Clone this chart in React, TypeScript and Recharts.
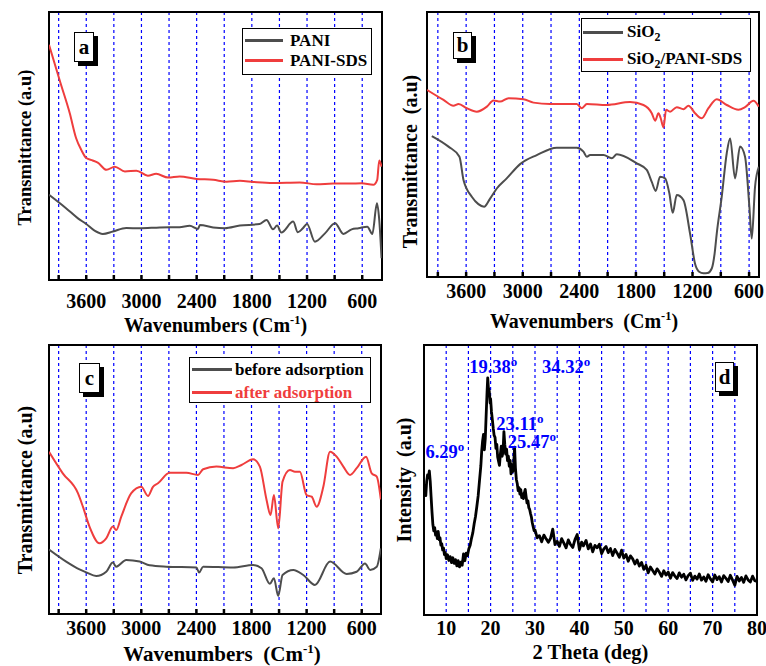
import React from 'react';
import { LineChart, Line, XAxis, YAxis, CartesianGrid, ReferenceArea, ReferenceDot, Legend } from 'recharts';

const SERIF = "'Liberation Serif', 'Times New Roman', serif";
const GRAY = '#4d4d4d';
const RED = '#ef3d3d';
const BLUE = '#0000ff';

// ---------- Panel a ----------
const aPaniWn = [4005, 3820, 3690, 3600, 3510, 3420, 3310, 3165, 3020, 2800, 2585, 2475, 2385, 2365, 2220, 2095, 1930, 1715, 1640, 1570, 1525, 1480, 1350, 1300, 1245, 1200, 1115, 1005, 895, 805, 715, 640, 545, 490, 440, 415, 390];
const aPaniT = [31.8, 26.8, 23.0, 20.9, 18.4, 17.2, 18.1, 19.4, 19.3, 19.6, 19.7, 20.2, 19.0, 20.5, 19.6, 19.3, 20.3, 20.9, 22.4, 18.9, 20.3, 17.7, 21.8, 17.8, 19.3, 20.9, 14.3, 17.4, 21.2, 17.2, 18.9, 19.3, 19.9, 17.2, 28.6, 22.4, 8.1];
const aSdsWn = [4005, 3880, 3780, 3710, 3655, 3600, 3530, 3475, 3380, 3290, 3180, 3055, 2930, 2840, 2710, 2585, 2400, 2220, 2075, 1930, 1785, 1570, 1280, 1095, 915, 735, 607, 480, 437, 415, 390];
const aSdsT = [87.8, 73.5, 62.3, 52.9, 48.6, 45.5, 44.6, 43.8, 41.1, 42.3, 40.5, 40.8, 38.9, 39.6, 38.2, 38.6, 37.7, 37.4, 36.7, 37.0, 36.6, 36.2, 36.4, 35.7, 36.0, 36.0, 36.1, 35.5, 37.4, 44.6, 42.3];

// ---------- Panel b ----------
const bSiWn = [3964, 3787, 3671, 3628, 3540, 3470, 3410, 3346, 3275, 3170, 3028, 2851, 2639, 2427, 2356, 2320, 2286, 2144, 2056, 2003, 1791, 1685, 1632, 1590, 1544, 1491, 1445, 1410, 1367, 1296, 1226, 1173, 1130, 1084, 1040, 996, 965, 943, 890, 837, 801, 749, 696, 643, 597, 572, 537, 497];
const bSiT = [53.2, 49.2, 45.4, 36.6, 30.3, 27.5, 26.5, 29.6, 33.4, 37.2, 42.6, 46.0, 48.8, 48.8, 47.3, 45.4, 46.0, 46.0, 44.8, 46.3, 42.9, 40.4, 35.9, 32.5, 37.8, 37.2, 31.5, 24.2, 30.9, 29.0, 16.4, 5.0, 2.0, 1.4, 1.5, 3.2, 9.0, 16.4, 30.3, 46.7, 52.3, 37.2, 49.2, 45.4, 26.5, 14.5, 34.0, 41.6];
const bSdsWn = [4015, 3840, 3735, 3680, 3593, 3487, 3380, 3310, 3240, 3150, 2992, 2886, 2710, 2427, 2374, 2320, 2110, 1862, 1720, 1632, 1596, 1561, 1537, 1508, 1480, 1438, 1367, 1296, 1243, 1173, 1102, 1031, 943, 837, 713, 643, 554, 497];
const bSdsT = [70.6, 66.8, 64.6, 65.3, 63.7, 62.4, 64.3, 66.6, 66.2, 67.5, 67.1, 65.8, 65.3, 65.3, 63.7, 65.3, 64.9, 66.0, 64.9, 61.8, 59.0, 61.8, 59.9, 56.5, 63.1, 62.4, 64.1, 63.3, 64.6, 61.8, 59.9, 63.7, 67.1, 64.9, 63.1, 64.1, 66.5, 64.3];

// ---------- Panel c ----------
const cBefWn = [4005, 3818, 3673, 3600, 3491, 3382, 3310, 3273, 3164, 3018, 2909, 2727, 2400, 2371, 2327, 2000, 1782, 1691, 1600, 1556, 1509, 1462, 1345, 1236, 1109, 945, 764, 655, 564, 509, 436, 392];
const cBefT = [24.0, 19.5, 16.6, 15.5, 14.1, 15.7, 19.1, 17.6, 20.1, 19.5, 18.1, 17.6, 17.3, 15.4, 17.6, 17.3, 18.2, 17.0, 11.2, 13.3, 6.7, 14.5, 16.4, 14.5, 10.8, 19.5, 14.9, 15.7, 18.8, 16.4, 17.6, 24.4];
const cAftWn = [4005, 3855, 3690, 3636, 3564, 3455, 3382, 3310, 3273, 3218, 3109, 3000, 2927, 2873, 2818, 2691, 2509, 2382, 2327, 2182, 2000, 1909, 1782, 1709, 1636, 1593, 1556, 1509, 1462, 1382, 1327, 1273, 1200, 1145, 1091, 1018, 945, 873, 800, 727, 655, 553, 491, 436, 392];
const cAftT = [60.3, 52.3, 44.9, 39.9, 32.5, 26.3, 28.1, 32.5, 31.2, 36.2, 44.9, 47.3, 43.9, 47.3, 48.6, 52.5, 52.5, 51.7, 53.8, 54.8, 54.2, 55.4, 57.5, 54.8, 42.4, 36.8, 44.2, 31.8, 49.2, 53.5, 52.9, 52.9, 44.2, 43.6, 39.9, 47.3, 60.3, 58.5, 54.8, 51.7, 54.2, 58.5, 52.3, 51.1, 42.6];

// ---------- Panel d (XRD) ----------
const dTheta = [5.0, 5.2, 5.4, 5.6, 5.8, 6.0, 6.2, 6.4, 6.6, 6.8, 7.0, 7.2, 7.4, 7.6, 7.8, 8.0, 8.2, 8.4, 8.6, 8.8, 9.0, 9.2, 9.4, 9.6, 9.8, 10.0, 10.3, 10.6, 10.9, 11.2, 11.5, 11.8, 12.1, 12.4, 12.7, 13.0, 13.3, 13.6, 13.9, 14.2, 14.5, 14.8, 15.1, 15.4, 15.7, 16.0, 16.3, 16.6, 16.9, 17.2, 17.5, 17.8, 18.0, 18.2, 18.4, 18.6, 18.8, 19.0, 19.2, 19.35, 19.5, 19.7, 19.9, 20.0, 20.2, 20.4, 20.6, 20.8, 21.0, 21.2, 21.4, 21.6, 21.8, 22.0, 22.2, 22.4, 22.6, 22.8, 23.0, 23.2, 23.4, 23.6, 23.8, 24.0, 24.2, 24.4, 24.6, 24.8, 25.0, 25.2, 25.4, 25.6, 25.8, 26.0, 26.2, 26.4, 26.6, 26.8, 27.0, 27.2, 27.4, 27.6, 27.8, 28.0, 28.2, 28.4, 28.6, 28.8, 29.0, 29.2, 29.4, 29.6, 29.8,
  30.0, 30.5, 31.0, 31.5, 32.0, 32.5, 33.0, 33.5, 34.0, 34.5, 35.0, 35.5, 36.0, 36.5, 37.0, 37.5, 38.0, 38.5, 39.0, 39.5, 40.0, 40.5, 40.9, 41.5, 42.0, 42.5, 43.0, 43.5, 44.0, 44.5, 45.0, 45.5, 46.0, 46.5, 47.0, 47.5, 48.0, 48.5, 49.0, 49.5, 50.0, 50.5, 51.0, 51.5, 52.0, 52.5, 53.0, 53.5, 54.0, 54.5, 55.0, 55.5, 56.0, 56.5, 57.0, 57.5, 58.0, 58.5, 59.0, 59.5, 60.0, 60.5, 61.0, 61.5, 62.0, 62.5, 63.0, 63.5, 64.0, 64.5, 65.0, 65.5, 66.0, 66.5, 67.0, 67.5, 68.0, 68.5, 69.0, 69.5, 70.0, 70.5, 71.0, 71.5, 72.0, 72.5, 73.0, 73.5, 74.0, 74.5, 75.0, 75.5, 76.0, 76.5, 77.0, 77.5, 78.0, 78.5, 79.0, 79.5, 80.0];
const dIntensity = [45.1, 47.8, 44.2, 49.5, 51.9, 50.8, 53.4, 49.6, 43.8, 38.2, 33.5, 31.2, 32.4, 29.6, 30.8, 28.3, 31.0, 27.9, 28.6, 25.9, 26.4, 24.1, 24.8, 22.4, 23.1, 20.9, 22.3, 20.2, 21.6, 19.4, 21.2, 19.1, 20.5, 18.2, 20.1, 17.8, 19.6, 18.4, 22.6, 20.1, 22.9, 22.0, 24.5, 25.8, 28.4, 30.5, 33.8, 36.5, 40.2, 44.1, 49.8, 55.2, 60.8, 64.5, 66.9, 61.2, 65.3, 74.1, 82.5, 87.8, 84.2, 82.9, 78.5, 80.1, 75.2, 72.3, 69.1, 66.5, 65.8, 61.7, 63.2, 58.4, 56.9, 55.4, 59.6, 62.5, 58.8, 60.4, 67.9, 63.1, 59.6, 61.4, 57.2, 58.8, 55.1, 57.3, 52.3, 55.6, 53.1, 55.9, 62.2, 54.3, 50.2, 48.7, 46.1, 47.2, 44.8, 46.4, 43.5, 44.9, 43.1, 45.2, 46.5, 43.8, 41.5, 42.3, 39.8, 39.1, 37.5, 36.2, 34.1, 32.6, 31.2,
  31.5, 28.6, 29.4, 27.1, 29.6, 28.2, 26.9, 28.4, 31.8, 26.1, 27.3, 25.4, 28.3, 26.6, 24.9, 27.8, 26.1, 25.0, 27.9, 29.8, 24.2, 27.0, 25.6, 27.6, 24.5, 26.3, 23.4, 25.8, 24.9, 26.2, 22.7, 24.5, 25.4, 23.1, 24.6, 22.0, 24.3, 22.9, 21.4, 24.0, 21.1, 22.4, 19.9, 21.9, 20.8, 18.9, 20.4, 18.1, 19.5, 16.9, 18.4, 15.6, 17.8, 16.5, 15.2, 17.1, 15.9, 14.3, 16.4, 14.8, 15.9, 13.6, 15.7, 14.4, 13.5, 15.6, 14.0, 15.1, 13.0, 14.6, 15.5, 12.8, 14.4, 13.3, 15.2, 12.9, 14.1, 12.5, 14.9, 13.4, 12.3, 14.8, 13.1, 14.2, 12.2, 14.6, 13.6, 12.4, 14.7, 12.9, 11.0, 14.3, 12.6, 13.9, 12.1, 14.5, 13.0, 12.2, 14.4, 12.7, 12.4];

const ftirTicks = [3900, 3600, 3300, 3000, 2700, 2400, 2100, 1800, 1500, 1200, 900, 600];
const xrdTicks = [10, 15, 20, 25, 30, 35, 40, 45, 50, 55, 60, 65, 70, 75, 80];

const annText = ['6.29', '19.38', '34.32', '23.11', '25.47'];
const annTheta = [9.7, 20.6, 37.0, 26.6, 29.3];
const annLevel = [58.1, 89.6, 89.6, 68.5, 61.9];

const pts = (xs: number[], ys: number[]) => xs.map((x, i) => ({ x, y: ys[i] }));

const renderName = (name: string) => {
  if (name.indexOf('SiO2') < 0) return name;
  const parts = name.split('SiO2');
  const out: any[] = [];
  parts.forEach((p, i) => {
    if (i > 0) {
      out.push(<span key={'s' + i}>SiO<span style={{ fontSize: 12, position: 'relative', top: 4 }}>2</span></span>);
    }
    if (p) out.push(<span key={'p' + i}>{p}</span>);
  });
  return out;
};

const makeLegend = (cfg: any, order: string[]) => (props: any) => {
  const payload = props.payload || [];
  const items = order.map((n) => payload.find((p: any) => String(p.value) === n)).filter(Boolean);
  return (
    <div style={{ width: cfg.lw, height: cfg.lh, border: '1.5px solid #000', background: '#fff', boxSizing: 'border-box', paddingLeft: cfg.lpl, paddingTop: cfg.lpt }}>
      {items.map((p: any, i: number) => (
        <div key={i} style={{ display: 'flex', alignItems: 'center', height: cfg.rowH }}>
          <div style={{ width: cfg.lineLen, height: 2.5, background: p.color, marginRight: cfg.gap, flex: 'none' }} />
          <span style={{ fontFamily: SERIF, fontWeight: 'bold', fontSize: 17, lineHeight: '17px', whiteSpace: 'nowrap', color: cfg.colorText && p.color === RED ? RED : '#000' }}>
            {renderName(String(p.value))}
          </span>
        </div>
      ))}
    </div>
  );
};

const makeXLabel = (cfg: any) => (props: any) => {
  const vb = props.viewBox || { x: 0, y: 0, width: 0, height: 0 };
  const x = vb.x + vb.width / 2 + cfg.xdx;
  const y = vb.y + cfg.xdy;
  return (
    <text x={x} y={y} textAnchor="middle" fontFamily={SERIF} fontWeight="bold" fontSize={cfg.xfs} fill="#000" style={{ whiteSpace: 'pre' }}>
      {cfg.xText}
      {cfg.xSup ? <tspan dy={-8} fontSize={cfg.xfs * 0.62}>{cfg.xSup}</tspan> : null}
      {cfg.xSup ? <tspan dy={8}>)</tspan> : null}
    </text>
  );
};

const makeYLabel = (cfg: any) => (props: any) => {
  const vb = props.viewBox || { x: 0, y: 0, width: 0, height: 0 };
  const x = vb.x + cfg.ycx;
  const y = vb.y + vb.height / 2 + cfg.ycy;
  return (
    <text x={x} y={y} transform={`rotate(-90 ${x} ${y})`} textAnchor="middle" dominantBaseline="central" fontFamily={SERIF} fontWeight="bold" fontSize={cfg.yfs} fill="#000" style={{ whiteSpace: 'pre' }}>
      {cfg.yText}
    </text>
  );
};

const annLabel = (txt: string) => (props: any) => {
  const vb = props.viewBox || { x: 0, y: 0 };
  return (
    <text x={vb.x} y={vb.y} textAnchor="middle" fontFamily={SERIF} fontWeight="bold" fontSize={18.5} fill={BLUE}>
      {txt}
      <tspan dy={-7} fontSize={13}>o</tspan>
    </text>
  );
};

const Panel = ({ cfg }: { cfg: any }) => {
  const isXrd = cfg.kind === 'xrd';
  return (
    <div style={{ position: 'absolute', left: cfg.left, top: cfg.top }}>
      <LineChart width={cfg.w} height={cfg.h} margin={{ top: cfg.mt, right: cfg.mr, bottom: 0, left: 0 }}>
        <CartesianGrid horizontal={false} stroke={BLUE} strokeDasharray="3 3" strokeWidth={1.2} />
        <XAxis
          type="number"
          dataKey="x"
          domain={cfg.domain}
          reversed={!isXrd}
          allowDataOverflow
          ticks={isXrd ? xrdTicks : ftirTicks}
          interval={0}
          tickFormatter={(v: number) => (isXrd ? (v % 10 === 0 ? String(v) : '') : (v % 600 === 0 ? String(v) : ''))}
          height={cfg.xh}
          axisLine={false}
          tickLine={isXrd ? false : { stroke: '#000', strokeWidth: 2.5 }}
          tickSize={isXrd ? 0 : -5}
          tickMargin={cfg.tm}
          tick={{ fill: '#000', fontSize: 20, fontWeight: 'bold', fontFamily: SERIF }}
          label={{ content: makeXLabel(cfg) }}
        />
        <YAxis type="number" domain={[0, 100]} width={cfg.yw} tick={false} axisLine={false} tickLine={false} label={{ content: makeYLabel(cfg) }} />
        <ReferenceArea x1={cfg.domain[0]} x2={cfg.domain[1]} y1={0} y2={100} fill="none" stroke="#000" strokeWidth={2} ifOverflow="visible" />
        {cfg.series.map((s: any, i: number) => (
          <Line key={i} data={s.data} dataKey="y" name={s.name} type={isXrd ? 'linear' : 'monotone'} stroke={s.color} strokeWidth={s.width || 2} strokeLinejoin="round" dot={false} activeDot={false} isAnimationActive={false} />
        ))}
        {isXrd
          ? annText.map((t, i) => (
              <ReferenceDot key={t} x={annTheta[i]} y={annLevel[i]} r={0} fill="none" stroke="none" label={{ content: annLabel(t) }} />
            ))
          : null}
        {cfg.legend ? (
          <Legend
            layout="vertical"
            align="center"
            verticalAlign="middle"
            content={makeLegend(cfg.legend, cfg.series.map((s: any) => s.name))}
            wrapperStyle={{ position: 'absolute', left: cfg.legend.lx, top: cfg.legend.ly, width: cfg.legend.lw, height: cfg.legend.lh }}
          />
        ) : null}
      </LineChart>
    </div>
  );
};

const panels: any[] = [
  {
    kind: 'ftir', left: 0, top: 0, w: 390, h: 340, mt: 12, mr: 8, yw: 49, xh: 60, domain: [385, 4005], tm: 19,
    xText: 'Wavenumbers (Cm', xSup: '-1', xdx: 0, xdy: 52, xfs: 20,
    yText: 'Transmittance (a.u)', ycx: 25, ycy: 1.5, yfs: 18.5,
    series: [
      { name: 'PANI', color: GRAY, data: pts(aPaniWn, aPaniT) },
      { name: 'PANI-SDS', color: RED, data: pts(aSdsWn, aSdsT) },
    ],
    legend: { lx: 242, ly: 28, lw: 130, lh: 47, lpl: 2, lpt: 1.5, rowH: 20, lineLen: 38, gap: 7, colorText: false },
    box: { text: 'a', x: 74, y: 32, w: 20, h: 30 },
  },
  {
    kind: 'ftir', left: 390, top: 0, w: 376, h: 340, mt: 12, mr: 7, yw: 37, xh: 63, domain: [495, 4015], tm: 12,
    xText: 'Wavenumbers  (Cm', xSup: '-1', xdx: -9, xdy: 51, xfs: 20,
    yText: 'Transmittance  (a.u)', ycx: 20, ycy: 17, yfs: 20,
    series: [
      { name: 'SiO2', color: GRAY, data: pts(bSiWn, bSiT) },
      { name: 'SiO2/PANI-SDS', color: RED, data: pts(bSdsWn, bSdsT) },
    ],
    legend: { lx: 191, ly: 18, lw: 170, lh: 54, lpl: 1, lpt: 0, rowH: 27, lineLen: 40, gap: 4, colorText: false },
    box: { text: 'b', x: 453, y: 32, w: 19, h: 27 },
  },
  {
    kind: 'ftir', left: 0, top: 340, w: 390, h: 326, mt: 5, mr: 9, yw: 49, xh: 52, domain: [390, 4005], tm: 12,
    xText: 'Wavenumbers  (Cm', xSup: '-1', xdx: 7, xdy: 47, xfs: 21,
    yText: 'Transmittance (a.u)', ycx: 25, ycy: 10.5, yfs: 20,
    series: [
      { name: 'before adsorption', color: GRAY, data: pts(cBefWn, cBefT) },
      { name: 'after adsorption', color: RED, data: pts(cAftWn, cAftT) },
    ],
    legend: { lx: 189, ly: 17, lw: 182, lh: 46, lpl: 2, lpt: 0, rowH: 23, lineLen: 40, gap: 3, colorText: true },
    box: { text: 'c', x: 79, y: 363, w: 21, h: 30 },
  },
  {
    kind: 'xrd', left: 390, top: 340, w: 376, h: 326, mt: 5, mr: 9, yw: 34, xh: 51, domain: [5, 80], tm: 6,
    xText: '2 Theta (deg)', xSup: '', xdx: 0, xdy: 44, xfs: 20.5,
    yText: 'Intensity  (a.u)', ycx: 14, ycy: 0, yfs: 20,
    series: [{ name: 'XRD', color: '#000', width: 2.8, data: pts(dTheta, dIntensity) }],
    legend: null,
    box: { text: 'd', x: 715, y: 362, w: 19, h: 30 },
  },
];

export default function App() {
  return (
    <div style={{ position: 'absolute', left: 0, top: 0, width: 766, height: 666, background: '#fff', overflow: 'hidden' }}>
      {panels.map((p, i) => (
        <Panel key={i} cfg={p} />
      ))}
      {panels.map((p, i) => (
        <div
          key={'box' + i}
          style={{
            position: 'absolute', left: p.box.x, top: p.box.y, width: p.box.w, height: p.box.h,
            border: '1.5px solid #000', background: '#fff', boxShadow: '4px 4px 0 #000', boxSizing: 'border-box',
            display: 'flex', alignItems: 'center', justifyContent: 'center',
            fontFamily: SERIF, fontWeight: 'bold', fontSize: 21, lineHeight: 1,
          }}
        >
          {p.box.text}
        </div>
      ))}
    </div>
  );
}
